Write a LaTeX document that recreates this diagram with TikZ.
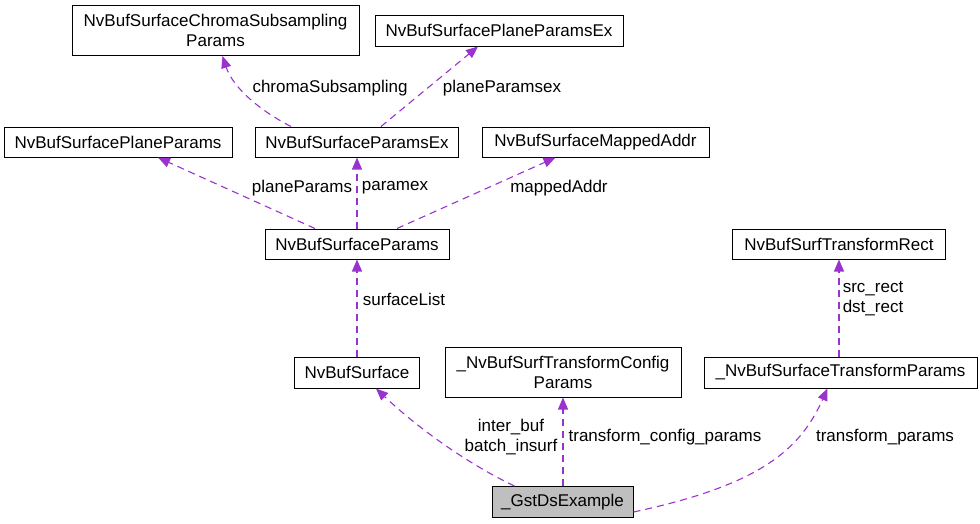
\documentclass[tikz,border=0pt]{standalone}
\usepackage{fontspec}
\setmainfont{Liberation Sans}
\usetikzlibrary{arrows.meta}

\definecolor{edgepurple}{HTML}{9A32CD}
\definecolor{boxgray}{HTML}{BFBFBF}

\begin{document}
\begin{tikzpicture}[x=1pt,y=-1pt,
    box/.style={draw=black,line width=1pt,fill=white,inner sep=1pt,align=center,
      font=\fontsize{17}{20}\selectfont},
    lbl/.style={inner sep=0pt,align=center,font=\fontsize{17}{20}\selectfont},
    member/.style={draw=edgepurple,line width=1.1pt,dash pattern=on 7pt off 5pt,
      -{Stealth[length=12pt,width=10pt,inset=0pt,fill=edgepurple]}}]
    \useasboundingbox (0,0) rectangle (980,523);

    % classes
    \node[box,minimum width=287,minimum height=50] (chroma) at (215.5,30.5)
      {NvBufSurfaceChromaSubsampling\\Params};
    \node[box,minimum width=248,minimum height=31] (planeex) at (499,30.5)
      {NvBufSurfacePlaneParamsEx};
    \node[box,minimum width=228,minimum height=30] (plane) at (118,142)
      {NvBufSurfacePlaneParams};
    \node[box,minimum width=203,minimum height=30] (paramsex) at (357,142)
      {NvBufSurfaceParamsEx};
    \node[box,minimum width=227,minimum height=30] (mapped) at (595.5,142)
      {NvBufSurfaceMappedAddr};
    \node[box,minimum width=184,minimum height=30] (sparams) at (357,244)
      {NvBufSurfaceParams};
    \node[box,minimum width=213,minimum height=30] (rect) at (839,244)
      {NvBufSurfTransformRect};
    \node[box,minimum width=125,minimum height=31] (surface) at (357,372.5)
      {NvBufSurface};
    \node[box,minimum width=236,minimum height=50] (config) at (563,372)
      {\_NvBufSurfTransformConfig\\Params};
    \node[box,minimum width=273,minimum height=31] (tparams) at (840.5,372.5)
      {\_NvBufSurfaceTransformParams};
    \node[box,fill=boxgray,minimum width=141,minimum height=31] (gst) at (562.5,502)
      {\_GstDsExample};

    % members
    \draw[member] ([xshift=-66pt]paramsex.north) .. controls (255,108) and (232,85) .. ([xshift=7pt]chroma.south);
    \draw[member] ([xshift=24pt]paramsex.north) -- ([xshift=-21pt]planeex.south);
    \draw[member] ([xshift=-42pt]sparams.north) -- ([xshift=40pt]plane.south);
    \draw[member] (sparams.north) -- (sparams.north |- paramsex.south);
    \draw[member] ([xshift=40pt]sparams.north) -- ([xshift=-40pt]mapped.south);
    \draw[member] (surface.north) -- (surface.north |- sparams.south);
    \draw[member] ([xshift=-48pt]gst.north) .. controls (470,465) and (420,430) .. ([xshift=19pt]surface.south);
    \draw[member] (gst.north -| config.south) -- (config.south);
    \draw[member] ([yshift=-10pt]gst.east) .. controls (760,485) and (800,450) .. ([xshift=-13pt]tparams.south);
    \draw[member] (tparams.north -| rect.south) -- (rect.south);

    % member names
    \node[lbl] (lchroma) at (330,88) {chromaSubsampling};
    \node[lbl] (lplaneex) at (502,88) {planeParamsex};
    \node[lbl] (lplane) at (302,188) {planeParams};
    \node[lbl] (lparamex) at (395,188) {paramex};
    \node[lbl] (lmapped) at (559,188) {mappedAddr};
    \node[lbl] (llist) at (404,299) {surfaceList};
    \node[lbl,align=left] (lrect) at (873,299) {src\_rect\\dst\_rect};
    \node[lbl] (lbuf) at (511,437) {inter\_buf\\batch\_insurf};
    \node[lbl] (lconfig) at (665,437) {transform\_config\_params};
    \node[lbl] (ltparams) at (885,437) {transform\_params};
\end{tikzpicture}
\end{document}
